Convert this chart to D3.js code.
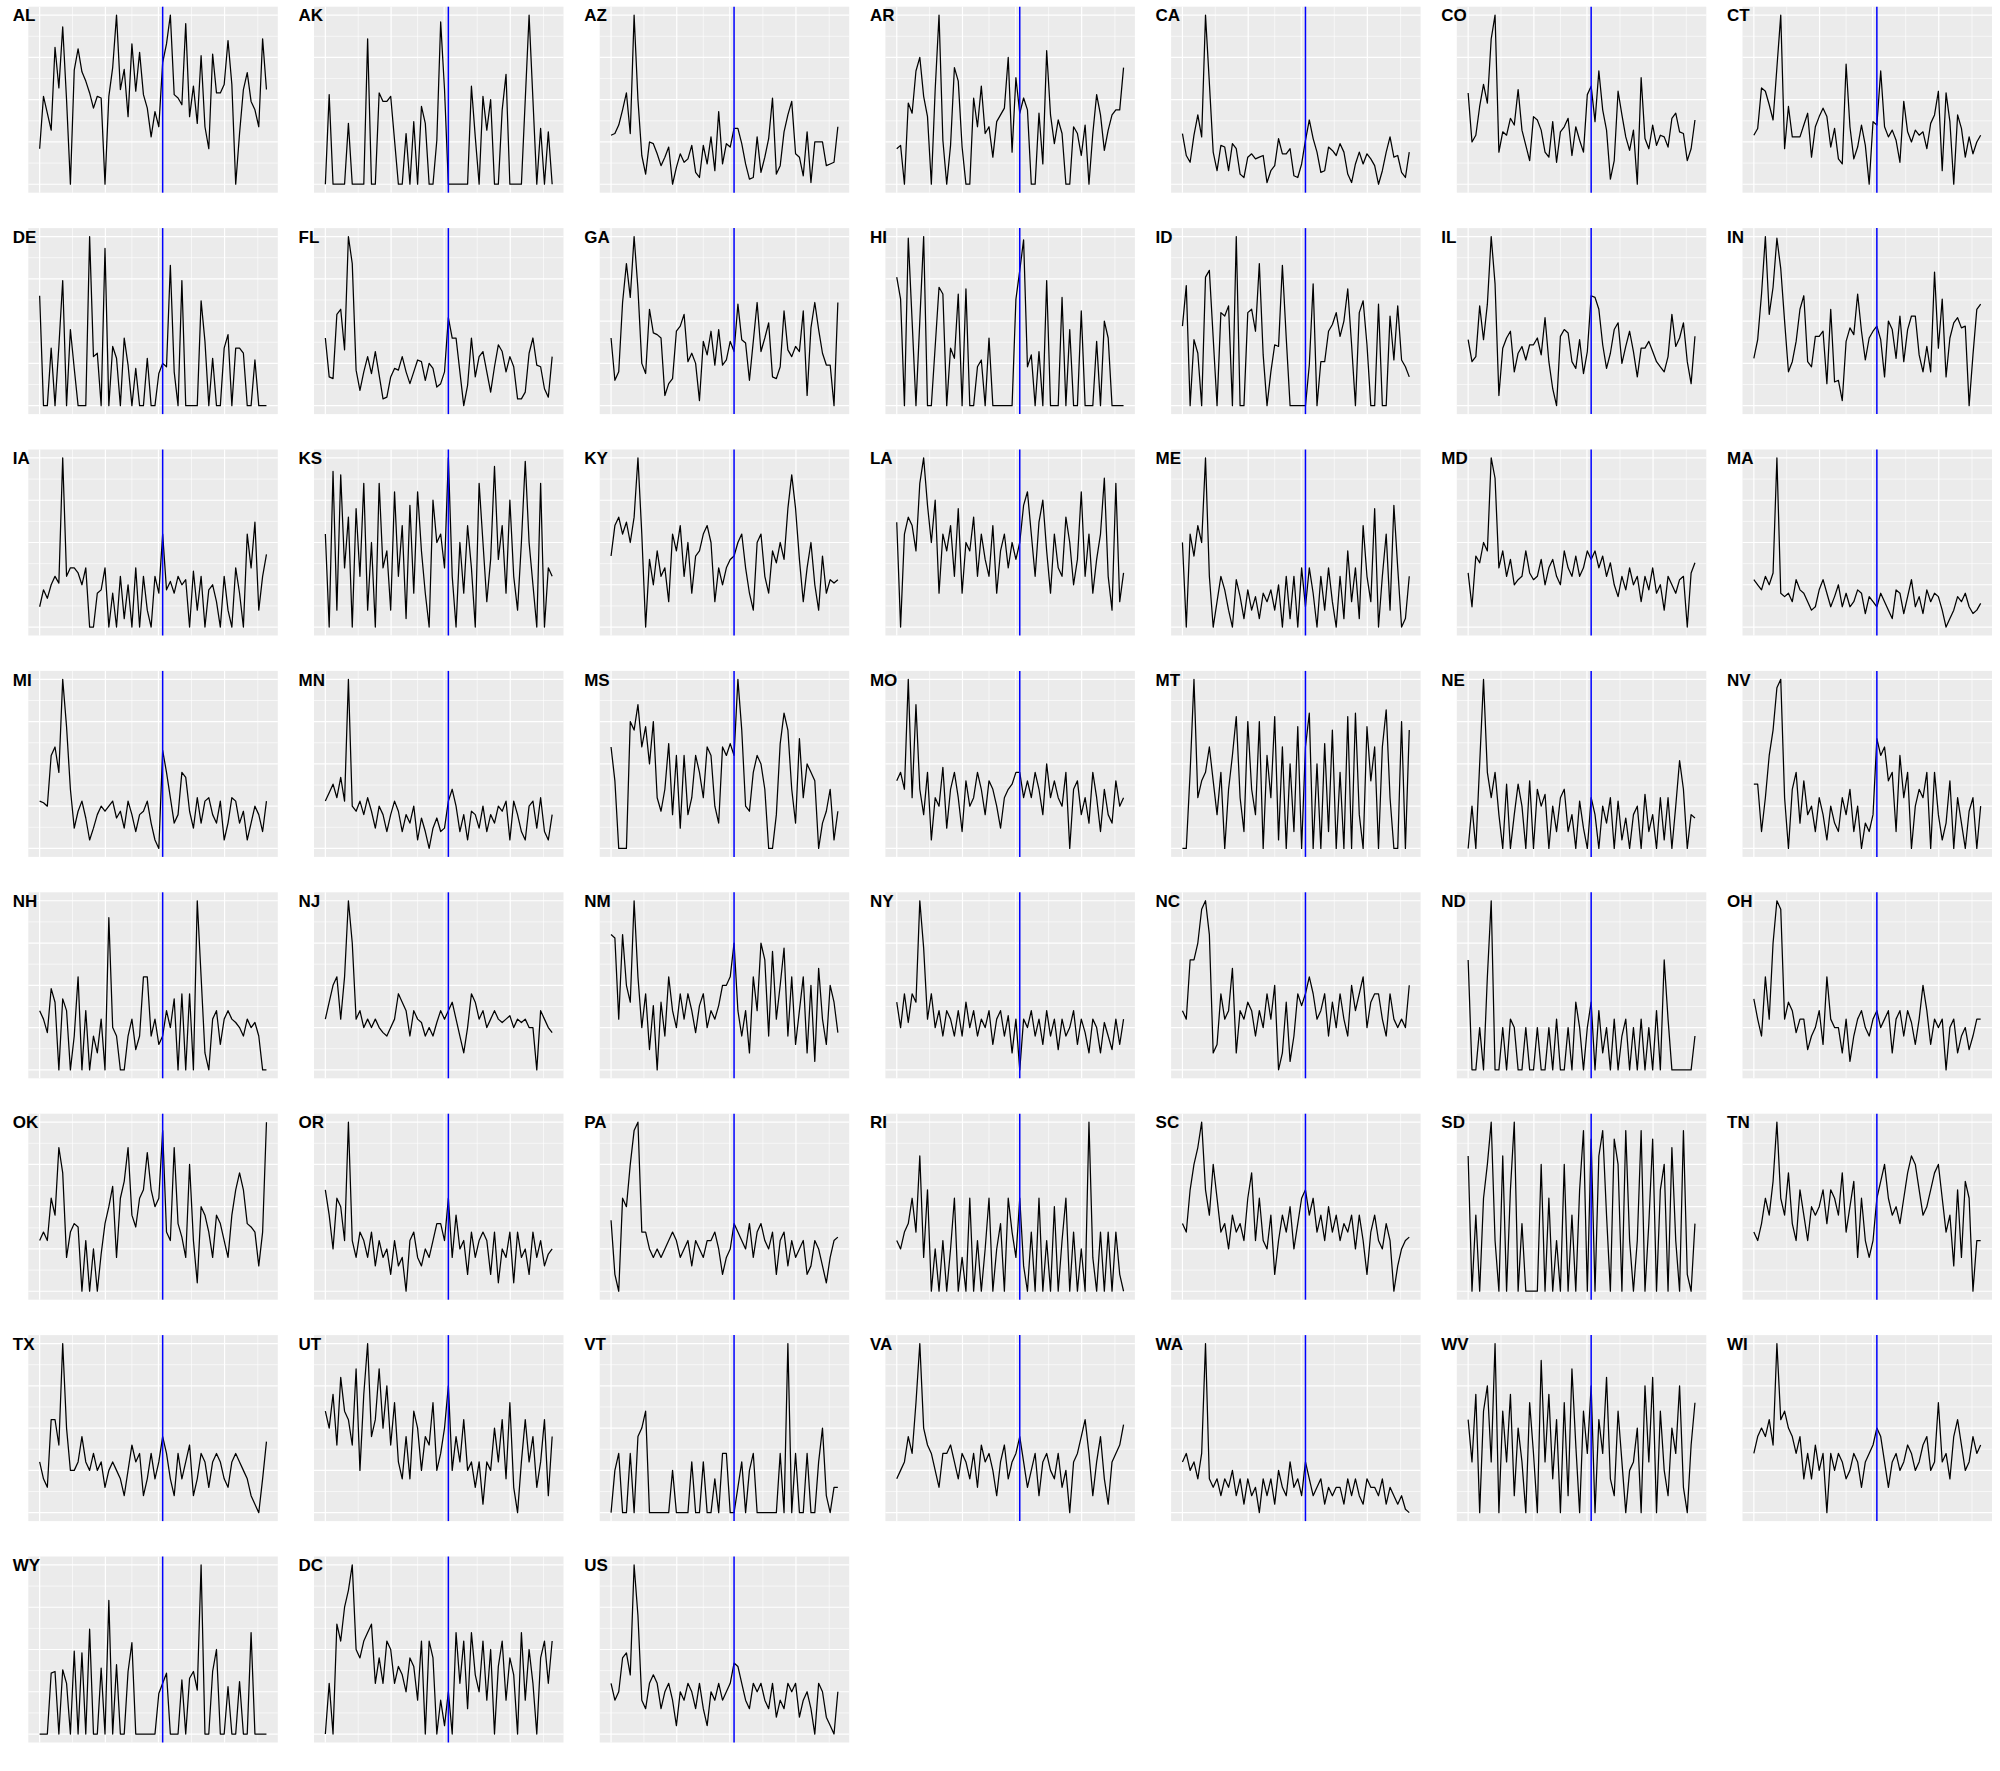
<!DOCTYPE html>
<html>
<head>
<meta charset="utf-8">
<script src="https://cdn.jsdelivr.net/npm/d3@7/dist/d3.min.js"></script>
<style>
  html, body { margin: 0; padding: 0; background: #ffffff; }
  svg { display: block; }
</style>
</head>
<body>
<div id="chart"></div>
<script>
// ---------------- data ----------------
const states = ["AL","AK","AZ","AR","CA","CO","CT","DE","FL","GA","HI","ID","IL","IN",
  "IA","KS","KY","LA","ME","MD","MA","MI","MN","MS","MO","MT","NE","NV",
  "NH","NJ","NM","NY","NC","ND","OH","OK","OR","PA","RI","SC","SD","TN",
  "TX","UT","VT","VA","WA","WV","WI","WY","DC","US"];

const AL = [.21,.52,.42,.32,.81,.57,.93,.50,0,.675, .80,.665,.61,.54,.45,.52,.51,0,.52,.69, 1.0,.56,.68,.40,.83,.55,.78,.53,.45,.28, .43,.34,.72,.83,1.0,.53,.51,.47,.95,.40, .58,.36,.76,.34,.21,.77,.54,.54,.59,.85, .59,0,.30,.56,.66,.49,.44,.34,.86,.56];
const AK = [0,.53,0,0,0,0,.36,0,0,0, 0,.86,0,0,.54,.49,.49,.52,.26,0, 0,.30,0,.37,0,.46,.36,0,0,.26, .96,.56,0,0,0,0,0,0,.58,.28, 0,.52,.32,.50,0,0,.44,.65,0,0, 0,0,.5,1.0,.5,0,.33,0,.31,0];
const AZ = [.29,.30,.35,.44,.54,.30,1.0,.50,.17,.06, .25,.24,.18,.11,.16,.22,0,.10,.18,.13, .15,.23,.07,.04,.23,.12,.28,.08,.43,.12, .24,.22,.33,.33,.24,.12,.03,.04,.28,.07, .16,.27,.51,.06,.11,.31,.41,.49,.18,.16, .05,.31,.01,.25,.25,.25,.11,.12,.13,.34];
const AR = [.21,.23,0,.48,.42,.67,.75,.52,.40,0, .56,1.0,.26,0,.23,.69,.61,.22,0,0, .51,.34,.58,.30,.34,.16,.37,.41,.45,.75, .19,.63,.42,.51,.44,0,0,.42,.12,.79, .41,.24,.38,.30,0,0,.34,.30,.17,.35, 0,.30,.53,.41,.20,.32,.41,.44,.44,.69];
const CA = [.30,.17,.13,.29,.41,.28,1.0,.60,.19,.08, .23,.22,.08,.24,.21,.06,.04,.16,.18,.15, .16,.17,.01,.08,.11,.27,.18,.18,.21,.05, .04,.12,.26,.38,.27,.19,.07,.08,.22,.20, .17,.24,.19,.06,.01,.12,.19,.12,.18,.15, .11,0,.08,.19,.28,.16,.17,.07,.04,.19];
const CO = [.54,.25,.29,.46,.59,.48,.86,1.0,.19,.31, .29,.39,.35,.56,.32,.23,.14,.40,.38,.32, .19,.16,.37,.13,.31,.34,.39,.17,.34,.26, .19,.53,.58,.37,.67,.44,.32,.03,.14,.55, .41,.28,.20,.32,0,.63,.27,.21,.35,.23, .29,.28,.22,.39,.42,.31,.30,.14,.21,.38];
const CT = [.29,.33,.57,.55,.47,.38,.69,1.0,.21,.46, .28,.28,.28,.35,.42,.16,.34,.40,.45,.40, .22,.33,.15,.12,.71,.34,.15,.22,.35,.23, 0,.37,.35,.67,.34,.28,.32,.26,.13,.49, .31,.25,.32,.29,.31,.21,.36,.41,.55,.08, .54,.37,0,.41,.33,.16,.28,.18,.25,.29];
const DE = [.65,0,0,.34,0,.35,.74,0,.45,.22, 0,0,0,1.0,.29,.31,0,.93,0,.35, .28,0,.40,.24,0,.22,0,0,.28,0, 0,.19,.25,.23,.83,.20,0,.74,0,0, 0,0,.62,.38,0,.28,0,0,.34,.42, 0,.34,.34,.31,0,0,.27,0,0,0];
const FL = [.40,.17,.16,.54,.57,.33,1.0,.84,.21,.09, .20,.29,.19,.32,.18,.04,.05,.17,.22,.21, .29,.20,.13,.20,.27,.26,.15,.25,.22,.11, .13,.20,.52,.40,.40,.20,0,.12,.40,.17, .29,.32,.20,.08,.23,.36,.32,.20,.29,.23, .04,.04,.08,.31,.40,.24,.23,.10,.05,.29];
const GA = [.40,.15,.20,.61,.84,.64,1.0,.69,.25,.19, .57,.43,.42,.40,.06,.13,.16,.44,.47,.54, .26,.31,.25,.03,.38,.30,.44,.24,.45,.24, .27,.38,.32,.60,.39,.37,.15,.38,.61,.32, .40,.49,.17,.16,.23,.56,.33,.29,.35,.32, .56,.06,.46,.61,.45,.31,.24,.24,0,.61];
const HI = [.76,.63,0,.99,.5,0,.5,1.0,0,0, .35,.70,.66,0,.34,.28,.66,0,.69,0, 0,.23,.27,0,.40,0,0,0,0,0, 0,.63,.8,.98,.23,.30,0,.32,0,.74, 0,0,0,.64,0,.45,0,0,.56,0, 0,0,.38,0,.50,.40,0,0,0,0];
const ID = [.47,.71,0,.39,.31,0,.76,.80,.40,0, .55,.53,.59,0,1.0,0,0,.55,.57,.44, .84,.30,0,.20,.36,.35,.83,.40,0,0, 0,0,0,.24,.72,0,.26,.26,.44,.48, .55,.41,.50,.69,.36,0,.55,.62,.36,0, 0,.60,0,0,.53,.27,.59,.27,.23,.17];
const IL = [.39,.26,.29,.59,.39,.60,1.0,.72,.06,.34, .40,.44,.20,.31,.35,.27,.36,.36,.40,.30, .52,.26,.10,0,.41,.45,.43,.26,.22,.39, .19,.32,.65,.64,.57,.36,.22,.31,.45,.49, .25,.35,.44,.32,.17,.34,.34,.38,.32,.26, .23,.20,.29,.54,.35,.40,.49,.26,.13,.41];
const IN = [.28,.39,.66,1.0,.54,.70,.99,.81,.50,.20, .26,.38,.57,.65,.26,.23,.41,.41,.44,.13, .57,.14,.15,.03,.38,.46,.42,.66,.44,.27, .40,.44,.47,.39,.17,.50,.45,.28,.53,.26, .45,.53,.53,.30,.20,.35,.20,.79,.34,.63, .17,.40,.49,.52,.46,.47,0,.30,.57,.60];
const IA = [.12,.22,.17,.25,.3,.26,1.0,.3,.35,.35, .32,.25,.35,0,0,.2,.22,.35,0,.2, 0,.3,.05,.25,0,.35,0,.3,.1,0, .3,.2,.55,.22,.27,.2,.3,.25,.28,0, .33,.1,.3,0,.22,.25,.15,0,.3,.1, 0,.35,.2,0,.55,.35,.62,.1,.3,.43];
const KS = [.55,0,.92,.1,.9,.35,.65,0,.7,.3, .85,.1,.5,0,.85,.35,.45,.1,.8,.3, .6,.05,.72,.2,.8,.45,.2,0,.75,.5, .55,.35,1.0,.3,0,.5,.2,.6,.35,0, .85,.5,.15,.4,.95,.4,.6,.2,.75,.3, .1,.5,.98,.5,.25,0,.85,0,.35,.3];
const KY = [.42,.6,.65,.55,.62,.5,.65,1.0,.55,0, .4,.25,.45,.3,.35,.15,.55,.45,.6,.3, .5,.2,.42,.45,.55,.6,.5,.15,.35,.25, .35,.4,.42,.5,.55,.35,.2,.1,.5,.55, .3,.2,.45,.38,.5,.4,.7,.9,.7,.4, .15,.35,.5,.25,.1,.42,.2,.28,.26,.28];
const LA = [.62,0,.55,.65,.6,.45,.85,1.0,.72,.5, .75,.2,.55,.45,.6,.3,.7,.2,.5,.45, .65,.3,.55,.4,.3,.6,.2,.45,.55,.35, .5,.4,.5,.72,.8,.55,.3,.62,.75,.45, .2,.55,.35,.3,.65,.5,.25,.4,.8,.3, .55,.2,.4,.55,.88,.3,.1,.85,.15,.32];
const ME = [.5,0,.55,.42,.6,.5,1.0,.3,0,.15, .3,.22,.1,0,.28,.18,.05,.22,.1,.18, .05,.2,.15,.22,.1,.25,0,.3,.05,.3, 0,.35,.12,.35,.2,0,.3,.1,.35,.15, 0,.3,.05,.45,.15,.35,.05,.6,.3,.15, .7,0,.3,.55,.1,.72,.35,0,.05,.3];
const MD = [.32,.12,.42,.38,.5,.45,1.0,.88,.35,.45, .3,.4,.25,.28,.3,.45,.32,.28,.3,.4, .25,.35,.4,.3,.25,.45,.35,.3,.42,.3, .35,.45,.4,.45,.35,.42,.3,.38,.25,.18, .3,.22,.35,.25,.3,.15,.3,.22,.35,.2, .25,.1,.3,.25,.2,.28,.3,0,.32,.38];
const MA = [.28,.25,.22,.3,.25,.32,1.0,.2,.18,.2, .15,.28,.22,.2,.15,.1,.12,.22,.28,.2, .12,.18,.25,.12,.2,.12,.15,.22,.2,.08, .18,.15,.12,.2,.15,.1,.05,.22,.2,.08, .18,.28,.12,.18,.08,.22,.15,.2,.18,.1, 0,.05,.1,.18,.15,.2,.12,.08,.1,.14];
const MI = [.28,.27,.25,.55,.6,.45,1.0,.72,.35,.12, .22,.28,.18,.05,.12,.2,.25,.22,.25,.28, .18,.22,.12,.28,.2,.1,.2,.22,.28,.15, .05,0,.58,.45,.3,.15,.2,.45,.42,.22, .12,.3,.15,.28,.3,.2,.15,.28,.05,.15, .3,.28,.15,.22,.05,.15,.25,.2,.1,.28];
const MN = [.28,.33,.38,.3,.42,.28,1.0,.25,.22,.28, .2,.3,.22,.12,.25,.2,.1,.2,.28,.22, .1,.2,.15,.25,.05,.18,.1,0,.12,.18, .1,.12,.28,.35,.25,.1,.2,.05,.22,.2, .12,.25,.1,.2,.15,.25,.22,.28,.05,.28, .2,.1,.05,.25,.28,.12,.3,.1,.05,.2];
const MS = [.6,.4,0,0,0,.75,.7,.85,.6,.72, .5,.75,.3,.22,.35,.62,.2,.55,.12,.55, .2,.3,.55,.45,.3,.6,.55,.25,.15,.6, .55,.62,.55,1.0,.7,.25,.22,.45,.55,.5, .35,0,0,.2,.62,.8,.7,.35,.15,.65, .3,.5,.45,.4,0,.15,.22,.35,.05,.22];
const MO = [.4,.45,.35,1.0,.3,.85,.35,.2,.45,.05, .3,.25,.48,.12,.35,.45,.3,.1,.4,.25, .3,.45,.35,.2,.4,.35,.25,.12,.3,.35, .38,.45,.45,.3,.4,.3,.45,.35,.2,.5, .3,.4,.3,.25,.45,0,.35,.4,.2,.3, .15,.45,.3,.1,.35,.2,.15,.4,.25,.3];
const MT = [0,0,.45,1.0,.3,.4,.45,.6,.4,.2, .45,0,.35,.55,.78,.3,.1,.75,.35,.2, .75,0,.55,.3,.78,.05,.6,0,.5,.1, .72,0,.6,.8,0,.5,0,.62,.1,.7, 0,.45,0,.78,0,.8,.2,0,.72,.4, .6,0,.6,.82,.3,0,0,.75,0,.7];
const NE = [0,.25,0,.5,1.0,.45,.3,.45,.2,0, .38,0,.2,.38,.25,0,.4,0,.35,.25, .32,0,.25,.1,.3,.35,.1,.2,0,.28, .12,0,.3,.2,0,.25,.15,.3,0,.28, .05,.18,0,.2,.25,0,.32,.1,.2,0, .3,.05,.3,0,.25,.52,.35,0,.2,.18];
const NV = [.38,.38,.1,.3,.55,.7,.95,1.0,.3,0, .35,.45,.15,.4,.2,.25,.1,.3,.2,.05, .25,.15,.1,.3,.2,.35,.1,.25,0,.15, .1,.2,.65,.55,.6,.4,.45,.1,.55,.3, .45,0,.25,.35,.3,.45,0,.45,.2,.05, .15,.4,0,.3,.15,0,.22,.3,0,.25];
const NH = [.35,.3,.22,.48,.4,0,.42,.35,0,.2, .55,0,.35,0,.2,.1,.3,0,.9,.25, .2,0,0,.2,.3,.12,.2,.55,.55,.2, .3,.15,.2,.35,.25,.42,0,.45,0,.45, 0,1.0,.55,.1,0,.3,.35,.15,.3,.35, .3,.28,.25,.2,.3,.25,.28,.2,0,0];
const NJ = [.3,.4,.5,.55,.3,.55,1.0,.75,.3,.35, .25,.3,.25,.3,.25,.22,.2,.25,.3,.45, .4,.35,.2,.35,.3,.28,.2,.25,.2,.28, .35,.3,.35,.4,.3,.2,.1,.25,.45,.4, .3,.35,.25,.3,.35,.3,.28,.3,.32,.25, .3,.28,.3,.25,.25,0,.35,.3,.25,.22];
const NM = [.8,.78,.3,.8,.5,.4,1.0,.55,.25,.45, .12,.38,0,.4,.2,.55,.35,.25,.45,.3, .45,.35,.22,.38,.45,.25,.35,.3,.38,.5, .5,.55,.75,.35,.2,.35,.1,.55,.35,.75, .65,.2,.7,.3,.5,.72,.2,.55,.15,.35, .55,.1,.5,.05,.6,.3,.15,.5,.4,.22];
const NY = [.4,.25,.45,.28,.45,.4,1.0,.72,.3,.45, .25,.35,.2,.35,.3,.2,.35,.2,.4,.25, .35,.2,.3,.25,.35,.15,.3,.35,.2,.32, .1,.3,0,.3,.25,.35,.2,.3,.15,.35, .2,.3,.12,.3,.2,.25,.35,.15,.3,.22, .1,.3,.25,.1,.28,.2,.12,.3,.15,.3];
const NC = [.35,.3,.65,.65,.75,.95,1.0,.8,.1,.15, .45,.3,.35,.6,.1,.35,.3,.4,.35,.2, .35,.25,.45,.3,.5,0,.1,.4,.05,.2, .45,.38,.45,.55,.45,.3,.35,.45,.2,.4, .25,.45,.3,.2,.5,.35,.45,.55,.25,.4, .45,.45,.3,.2,.45,.3,.25,.3,.25,.5];
const ND = [.65,0,0,.25,0,.55,1.0,0,0,.25, 0,.3,.25,0,0,.25,0,0,.25,0, 0,.25,0,.3,0,0,.25,0,.4,.25, 0,.25,.4,0,.35,.1,.25,0,.3,0, .2,.3,0,.25,0,.3,0,.25,0,.35, 0,.65,.3,0,0,0,0,0,0,.2];
const OH = [.42,.3,.2,.55,.3,.75,1.0,.95,.3,.4, .35,.22,.3,.3,.12,.2,.25,.35,.15,.55, .3,.25,.25,.1,.3,.05,.2,.3,.35,.25, .2,.3,.35,.25,.3,.35,.1,.3,.35,.2, .35,.28,.15,.3,.5,.35,.15,.3,.25,.3, 0,.25,.3,.1,.2,.25,.12,.2,.3,.3];
const OK = [.3,.35,.3,.55,.45,.85,.7,.2,.35,.4, .38,0,.3,0,.25,0,.22,.4,.5,.62, .2,.55,.65,.85,.45,.38,.55,.6,.82,.6, .5,.55,.95,.35,.3,.85,.4,.32,.2,.75, .3,.05,.5,.45,.35,.2,.45,.4,.3,.2, .45,.6,.7,.6,.4,.38,.35,.15,.35,1.0];
const OR = [.6,.45,.25,.55,.5,.3,1.0,.3,.2,.35, .3,.2,.35,.15,.3,.2,.25,.1,.3,.15, .2,0,.3,.35,.2,.15,.25,.2,.3,.4, .4,.3,.55,.2,.45,.25,.3,.1,.35,.2, .3,.35,.3,.1,.35,.05,.25,.2,.35,.05, .35,.2,.25,.1,.35,.2,.3,.15,.22,.25];
const PA = [.42,.1,0,.55,.5,.75,.95,1.0,.35,.35, .25,.2,.25,.2,.25,.3,.35,.3,.2,.25, .3,.15,.3,.25,.2,.3,.3,.35,.25,.1, .2,.25,.4,.35,.3,.25,.4,.2,.35,.4, .3,.25,.35,.1,.3,.35,.15,.3,.2,.25, .3,.1,.15,.3,.25,.15,.05,.2,.3,.32];
const RI = [.3,.25,.35,.4,.55,.35,.8,.2,.6,0, .25,0,.3,0,.25,.55,0,.2,0,.55, 0,.3,0,.25,.55,0,.25,.4,0,.55, .35,.2,.55,.15,0,.35,0,.55,0,.3, 0,.5,0,.3,.55,0,.35,0,.25,0, 1.0,.2,0,.35,0,.35,0,.35,.1,0];
const SC = [.4,.35,.6,.75,.85,1.0,.6,.45,.75,.55, .35,.4,.25,.45,.35,.4,.3,.55,.7,.3, .55,.3,.25,.45,.1,.3,.45,.35,.5,.25, .4,.55,.6,.45,.55,.35,.45,.3,.5,.35, .45,.3,.4,.35,.45,.25,.45,.3,.1,.35, .45,.3,.25,.4,.3,0,.15,.25,.3,.32];
const SD = [.8,0,.45,0,.55,.75,1.0,.3,0,.8, 0,.6,1.0,0,.4,0,0,0,0,.75, 0,.55,0,.3,0,.75,0,.45,0,.6, .95,0,.9,0,.8,.95,.45,0,.9,.75, 0,.95,.3,0,.3,.95,0,.4,.9,0, .6,.75,0,.85,.3,0,.95,.1,0,.4];
const TN = [.35,.3,.4,.55,.45,.65,1.0,.55,.45,.7, .4,.3,.6,.45,.3,.5,.45,.5,.6,.4, .6,.55,.45,.7,.35,.5,.65,.2,.55,.3, .2,.3,.55,.65,.75,.55,.45,.5,.4,.55, .7,.8,.75,.6,.45,.5,.6,.7,.75,.55, .35,.45,.15,.6,.2,.65,.55,0,.3,.3];
const TX = [.3,.2,.15,.55,.55,.4,1.0,.5,.25,.25, .3,.45,.3,.25,.35,.25,.3,.15,.25,.3, .25,.2,.1,.25,.4,.3,.35,.1,.2,.35, .2,.3,.45,.35,.2,.1,.35,.2,.3,.4, .1,.2,.35,.3,.15,.3,.35,.3,.2,.15, .3,.35,.3,.25,.2,.1,.05,0,.2,.42];
const UT = [.6,.5,.7,.4,.8,.6,.55,.4,.85,.25, .7,1.0,.45,.55,.85,.5,.75,.4,.65,.3, .2,.45,.2,.6,.5,.25,.45,.4,.65,.25, .35,.5,.75,.25,.45,.3,.55,.25,.3,.15, .3,.05,.3,.25,.5,.3,.55,.2,.65,.15, 0,.3,.55,.3,.45,.15,.3,.55,.1,.45];
const VT = [0,.25,.35,0,0,.35,0,.45,.5,.6, 0,0,0,0,0,0,.25,0,0,0, 0,.3,0,0,.3,0,0,.2,0,.35, .35,0,0,.15,.3,0,.25,.35,0,0, 0,0,0,0,.35,0,1.0,0,.35,0, 0,.35,0,0,.3,.5,.1,0,.15,.15];
const VA = [.2,.25,.3,.45,.35,.65,1.0,.5,.4,.35, .25,.15,.35,.35,.4,.3,.2,.35,.3,.2, .35,.15,.4,.3,.35,.25,.1,.3,.4,.2, .3,.35,.45,.3,.15,.25,.35,.1,.3,.35, .25,.2,.35,.15,.25,0,.3,.35,.45,.55, .35,.1,.3,.45,.2,.05,.3,.35,.4,.52];
const WA = [.3,.35,.25,.3,.2,.35,1.0,.2,.15,.2, .1,.2,.15,.25,.1,.2,.05,.2,.1,.15, 0,.2,.1,.2,.05,.25,.15,.1,.3,.15, .2,.1,.3,.2,.1,.15,.2,.05,.15,.1, .15,.15,.05,.2,.1,.2,.1,.05,.2,.15, .15,.1,.2,.05,.15,.1,.05,.1,.02,0];
const WV = [.55,.3,.7,0,.6,.75,.3,1.0,0,.6, .3,.7,.1,.5,.3,0,.65,.35,0,.9, .3,.7,.2,.55,0,.65,.1,.85,.4,0, .6,.35,.75,0,.55,.35,.8,.2,.1,.6, .3,0,.25,.3,.5,0,.75,.3,.8,0, .6,.25,.1,.5,.35,.75,.15,0,.4,.65];
const WI = [.35,.45,.5,.45,.55,.4,1.0,.55,.6,.5, .45,.35,.45,.2,.35,.2,.4,.25,.35,0, .35,.25,.35,.3,.2,.25,.35,.3,.15,.3, .35,.4,.5,.45,.3,.15,.3,.35,.25,.3, .4,.35,.25,.3,.4,.45,.25,.3,.65,.3, .35,.2,.45,.55,.4,.25,.3,.45,.35,.4];
const WY = [0,0,0,.36,.37,0,.38,.30,0,.49, 0,.48,0,.62,0,0,.39,0,.79,0, .41,0,0,.37,.54,0,0,0,0,0, 0,.24,.30,.36,0,0,0,.32,0,.33, .37,.26,1.0,0,0,.37,.50,0,0,.28, 0,0,.31,0,0,.60,0,0,0,0];
const DC = [0,.3,0,.65,.55,.75,.85,1.0,.5,.45, .55,.6,.65,.3,.45,.3,.55,.5,.3,.4, .35,.25,.45,.4,.2,.55,0,.55,.45,0, .2,.05,.25,0,.6,.3,.55,.15,.6,.35, .25,.55,.2,.5,0,.4,.55,.2,.45,.35, 0,.6,.2,.5,.3,0,.45,.55,.3,.55];
const US = [.3,.2,.25,.45,.48,.35,1.0,.7,.2,.15, .3,.35,.3,.15,.25,.3,.2,.05,.25,.2, .3,.25,.15,.3,.15,.05,.25,.2,.3,.2, .25,.3,.42,.4,.3,.2,.15,.3,.25,.3, .2,.15,.3,.1,.2,.15,.3,.25,.3,.1, .2,.25,.15,0,.3,.25,.1,.05,0,.25];

// grid breaks (in data units: x = observation index, y = scaled value)
const xMajorBreaks = [0, 17.1, 30.9, 48.1];
const xMinorBreaks = [8.55, 24.0, 39.5, 56.75];
const yMajorBreaks = [0, 0.25, 0.5, 0.75, 1];
const yMinorBreaks = [0.125, 0.375, 0.625, 0.875];
const interventionIndex = 32;

const seriesTable = {AL,AK,AZ,AR,CA,CO,CT,DE,FL,GA,HI,ID,IL,IN,IA,KS,KY,LA,ME,MD,MA,
  MI,MN,MS,MO,MT,NE,NV,NH,NJ,NM,NY,NC,ND,OH,OK,OR,PA,RI,SC,SD,TN,TX,UT,VT,VA,WA,WV,WI,WY,DC,US};

// ---------------- layout ----------------
const W = 2000, H = 1771;
const nCols = 7;
const panelX0 = 28.3, colPitch = 285.7, panelY0 = 6.7, rowPitch = 221.4;
const panelW = 249.5, panelH = 186;

const svg = d3.select("#chart").append("svg").attr("width", W).attr("height", H);

const nPts = 60;
const expX = (nPts - 1) * 0.05;
const x = d3.scaleLinear().domain([0 - expX, (nPts - 1) + expX]).range([0, panelW]);
const y = d3.scaleLinear().domain([-0.05, 1.05]).range([panelH, 0]);

const line = d3.line().x((d, i) => x(i)).y(d => y(d));

states.forEach((st, k) => {
  const col = k % nCols, row = Math.floor(k / nCols);
  const px = panelX0 + col * colPitch, py = panelY0 + row * rowPitch;
  const g = svg.append("g").attr("transform", `translate(${px},${py})`);

  g.append("rect").attr("width", panelW).attr("height", panelH).attr("fill", "#EBEBEB");

  // minor grid
  g.selectAll(".yminor").data(yMinorBreaks).enter().append("line")
    .attr("x1", 0).attr("x2", panelW).attr("y1", d => y(d)).attr("y2", d => y(d))
    .attr("stroke", "#ffffff").attr("stroke-width", 0.6);
  g.selectAll(".xminor").data(xMinorBreaks).enter().append("line")
    .attr("y1", 0).attr("y2", panelH).attr("x1", d => x(d)).attr("x2", d => x(d))
    .attr("stroke", "#ffffff").attr("stroke-width", 0.6);
  // major grid
  g.selectAll(".ymajor").data(yMajorBreaks).enter().append("line")
    .attr("x1", 0).attr("x2", panelW).attr("y1", d => y(d)).attr("y2", d => y(d))
    .attr("stroke", "#ffffff").attr("stroke-width", 1.2);
  g.selectAll(".xmajor").data(xMajorBreaks).enter().append("line")
    .attr("y1", 0).attr("y2", panelH).attr("x1", d => x(d)).attr("x2", d => x(d))
    .attr("stroke", "#ffffff").attr("stroke-width", 1.2);

  // series line
  g.append("path").datum(seriesTable[st]).attr("d", line)
    .attr("fill", "none").attr("stroke", "#000000").attr("stroke-width", 1.25)
    .attr("stroke-linejoin", "round");

  // intervention line
  g.append("line")
    .attr("x1", x(interventionIndex)).attr("x2", x(interventionIndex))
    .attr("y1", 0).attr("y2", panelH)
    .attr("stroke", "#0000FF").attr("stroke-width", 1.5);

  // label
  svg.append("text")
    .attr("x", px - 15.5).attr("y", py + 14.6)
    .attr("font-family", "'Liberation Sans', Arial, Helvetica, sans-serif")
    .attr("font-weight", "bold").attr("font-size", 17).attr("fill", "#000")
    .text(st);
});
</script>
</body>
</html>
